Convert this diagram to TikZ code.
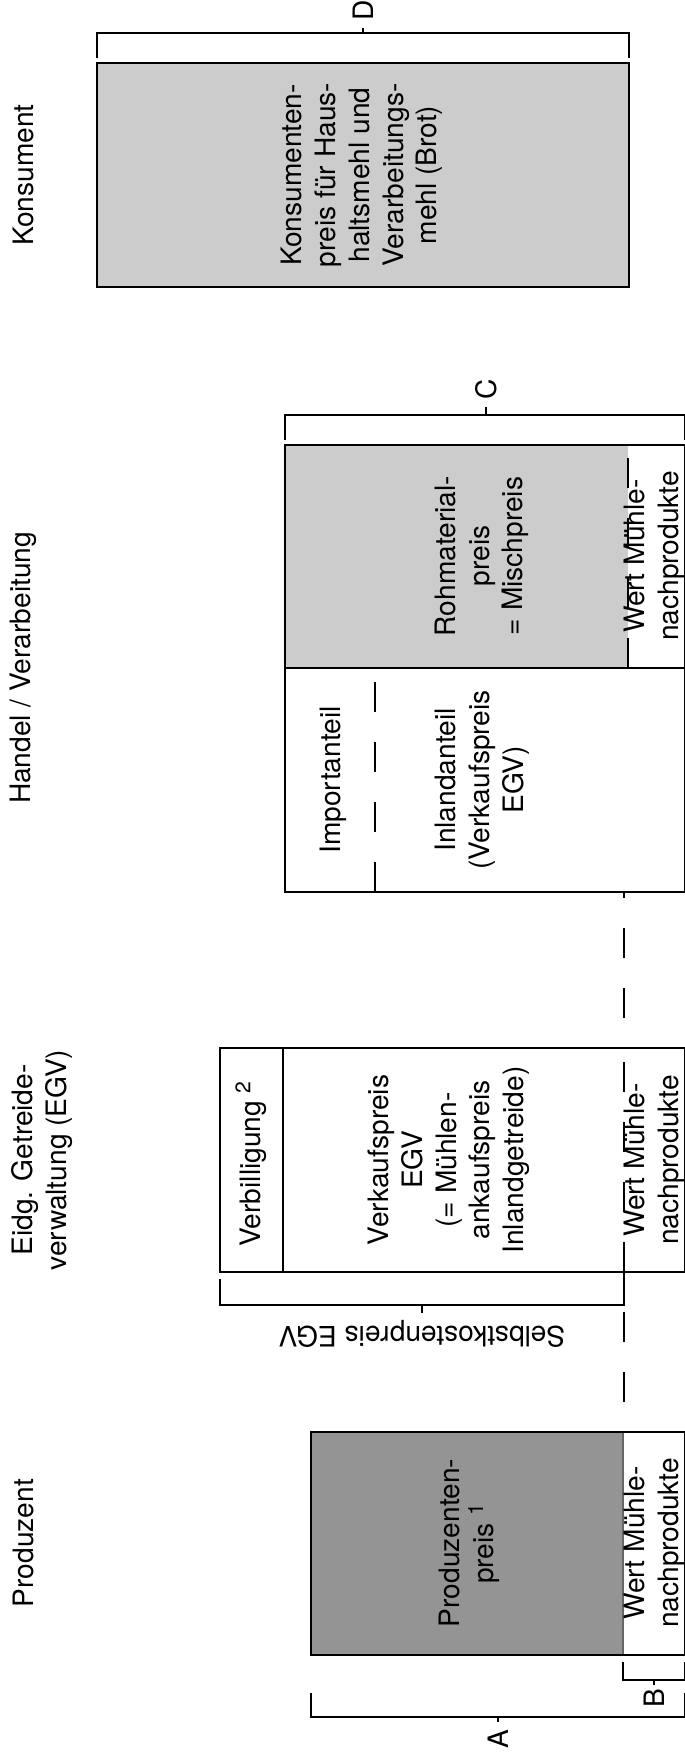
\documentclass[tikz,border=0pt]{standalone}
\usepackage{fontspec}
\setmainfont{TeX Gyre Heros}

\begin{document}
\begin{tikzpicture}
	[x=0.01cm, y=0.01cm, rotate=90, transform shape,
	 every node/.style={font=\fontsize{8}{9.6}\selectfont, align=center, inner sep=0pt},
	 bar/.style={draw, line width=0.7pt},
	 dark/.style={fill=black!42},
	 light/.style={fill=black!20},
	 cut/.style={line width=0.7pt, dash pattern=on 0.3cm off 0.3cm},
	 bracket/.style={line width=0.55pt}]

	\path [use as bounding box] (0,0) rectangle (1760,685);

	\node (prodhead) at (217,662)  {Produzent};
	\node (egvhead)  at (600,643)  {Eidg. Getreide-\\verwaltung (EGV)};
	\node (handhead) at (1092,662) {Handel / Verarbeitung};
	\node (konshead) at (1585,662) {Konsument};

	\fill[dark] (105,62) rectangle (328,374);
	\draw[black!60, line width=0.3pt] (105,62) -- (328,62);
	\draw[bar]  (105,0) rectangle (328,374);
	\node (prodpreis) at (217,216) {Produzenten-\\preis~\textsuperscript{1}};
	\node (prodwert)  at (217,31)  {Wert Mühle-\\nachprodukte};

	\draw[bar] (488,0) rectangle (712,465);
	\draw[bar] (488,402) -- (712,402);
	\draw[cut] (488,61) -- (712,61);
	\node (verbill)  at (597,434) {Verbilligung~\textsuperscript{2}};
	\node (verkauf)  at (600,236) {Verkaufspreis\\EGV\\(= Mühlen-\\ankaufspreis\\Inlandgetreide)};
	\node (egvwert)  at (600,31)  {Wert Mühle-\\nachprodukte};

	\fill[light] (1092,57) rectangle (1315,400);
	\draw[bar] (868,0) rectangle (1315,400);
	\draw[bar] (1092,0) -- (1092,400);
	\draw[cut] (868,310) -- (1092,310);
	\draw[cut] (1092,57) -- (1315,57);
	\node (import)  at (980,352)  {Importanteil};
	\node (inland)  at (980,203)  {Inlandanteil\\(Verkaufspreis\\EGV)};
	\node (rohmat)  at (1204,203) {Rohmaterial-\\preis\\= Mischpreis};
	\node (handwert) at (1204,31) {Wert Mühle-\\nachprodukte};

	\draw[bar, light] (1473,56) rectangle (1697,588);
	\draw[bar] (1473,56) rectangle (1697,588);
	\node (kons) at (1585,323) {Konsumenten-\\preis für Haus-\\haltsmehl und\\Verarbeitungs-\\mehl (Brot)};

	\draw[cut, dash phase=0.3cm, line width=0.55pt] (328,61) -- (488,61);
	\draw[cut, dash phase=0.3cm, line width=0.55pt] (712,61) -- (868,61);

	\draw[bracket] (67,374) -- (43,374) -- (43,0.5) -- (67,0.5);
	\draw[bracket] (43,187) -- (38,187);
	\node (labA) at (21,187) {A};

	\draw[bracket] (98,62) -- (80,62) -- (80,0.5) -- (98,0.5);
	\draw[bracket] (80,31) -- (75,31);
	\node (labB) at (62,31) {B};

	\draw[bracket] (481,465) -- (455,465) -- (455,61) -- (481,61);
	\draw[bracket] (455,263) -- (447,263);
	\node[rotate=90] (selbst) at (426,263) {Selbstkostenpreis EGV};

	\draw[bracket] (1320,400) -- (1345,400) -- (1345,0.5) -- (1320,0.5);
	\draw[bracket] (1345,199) -- (1353,199);
	\node (labC) at (1371,199) {C};

	\draw[bracket] (1702,588) -- (1727,588) -- (1727,56) -- (1702,56);
	\draw[bracket] (1727,322) -- (1732,322);
	\node (labD) at (1750,322) {D};
\end{tikzpicture}
\end{document}
